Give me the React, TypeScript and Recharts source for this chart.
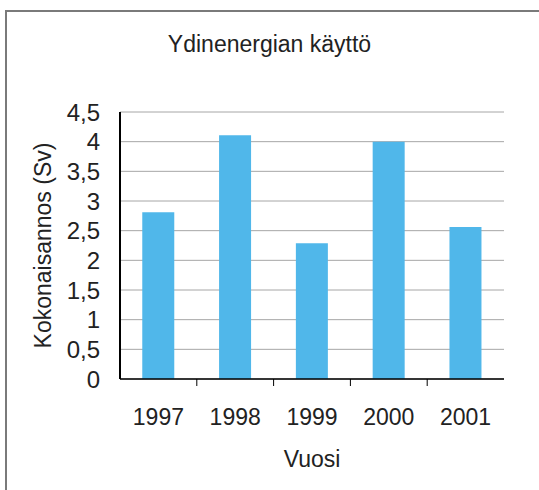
import { BarChart, Bar, XAxis, YAxis, CartesianGrid, Label } from "recharts"

const years = ["1997", "1998", "1999", "2000", "2001"]
const doses = [2.81, 4.11, 2.29, 4.0, 2.56]
const yTicks = [0, 0.5, 1, 1.5, 2, 2.5, 3, 3.5, 4, 4.5]

const FONT = "'Liberation Sans', Arial, sans-serif"
const TEXT = "#222"
const BAND = (504 - 120) / 5

const data = years.map((y, i) => ({ year: y, value: doses[i] }))

function YearTick(props: any) {
  const { x, y, payload, index } = props
  return (
    <g>
      {index < years.length - 1 && (
        <line x1={x + BAND / 2} y1={y} x2={x + BAND / 2} y2={y + 7} stroke="#000" strokeWidth={1} />
      )}
      <text x={x} y={y + 46} textAnchor="middle" fontFamily={FONT} fontSize={23} fill={TEXT}>
        {payload.value}
      </text>
    </g>
  )
}

export default function App() {
  return (
    <div style={{ position: "absolute", left: 0, top: 0, width: 539, height: 490, overflow: "hidden", background: "#fff" }}>
      <div
        style={{
          position: "absolute",
          left: 5,
          top: 10,
          width: 560,
          height: 500,
          border: "2px solid #7a7a7a",
          boxSizing: "border-box",
        }}
      />
      <div
        style={{
          position: "absolute",
          left: 0,
          top: 31,
          width: 539,
          textAlign: "center",
          fontFamily: FONT,
          fontSize: 23,
          color: TEXT,
        }}
      >
        Ydinenergian käyttö
      </div>
      <div style={{ position: "absolute", left: 0, top: 0 }}>
        <BarChart
          width={539}
          height={490}
          data={data}
          margin={{ top: 112, right: 35, bottom: 11, left: 60 }}
          barCategoryGap="29%"
        >
          <CartesianGrid horizontal vertical={false} stroke="#a6a6a6" strokeWidth={1} />
          <XAxis
            dataKey="year"
            height={100}
            tickSize={0}
            tickMargin={0}
            tick={<YearTick />}
            axisLine={{ stroke: "#000", strokeWidth: 1.5 }}
            interval={0}
          >
            <Label value="Vuosi" position="insideBottom" offset={12} fontFamily={FONT} fontSize={23} fill={TEXT} />
          </XAxis>
          <YAxis
            width={60}
            domain={[0, 4.5]}
            ticks={yTicks}
            interval={0}
            tickSize={0}
            tickMargin={20}
            tickFormatter={(v: number) => String(v).replace(".", ",")}
            tick={{ fontFamily: FONT, fontSize: 24, fill: TEXT }}
            axisLine={{ stroke: "#000", strokeWidth: 2 }}
          >
            <Label
              value="Kokonaisannos (Sv)"
              angle={-90}
              position="center"
              dx={-47}
              fontFamily={FONT}
              fontSize={23}
              fill={TEXT}
            />
          </YAxis>
          <Bar dataKey="value" fill="#50b7ea" isAnimationActive={false} />
        </BarChart>
      </div>
    </div>
  )
}
